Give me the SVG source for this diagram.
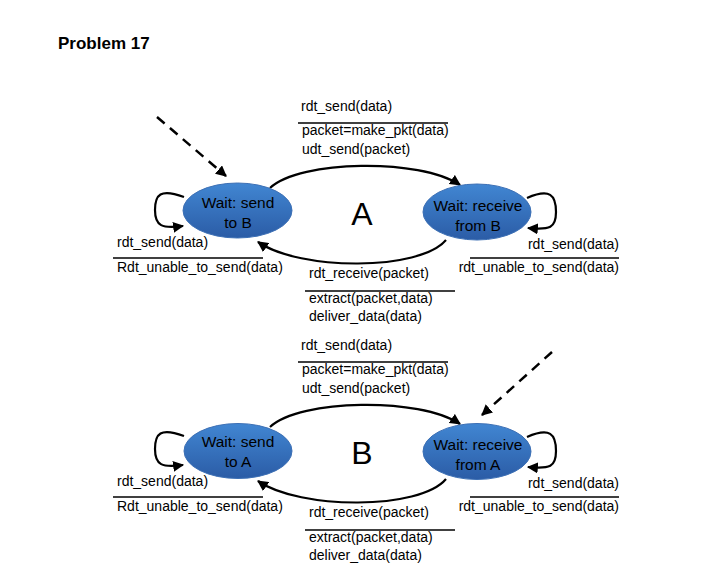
<svg xmlns="http://www.w3.org/2000/svg" width="705" height="572" viewBox="0 0 705 572">
<defs>
<linearGradient id="blue" x1="0" y1="0" x2="0" y2="1">
<stop offset="0" stop-color="#4186d2"/>
<stop offset="1" stop-color="#2b5ca6"/>
</linearGradient>
<marker id="arr" viewBox="0 0 10 10" refX="9" refY="5" markerWidth="11" markerHeight="11" markerUnits="userSpaceOnUse" orient="auto">
<path d="M0,0 L10,5 L0,10 z" fill="#000"/>
</marker>
</defs>
<style>
.st{fill:url(#blue);stroke:#3d70b5;stroke-width:1}
.sl{font-family:"Liberation Sans",Arial,sans-serif;font-size:15.5px;fill:#000;text-anchor:middle}
.lb{font-family:"Liberation Sans",Arial,sans-serif;font-size:14px;fill:#000}
.big{font-family:"Liberation Sans",Arial,sans-serif;font-size:32px;fill:#000;text-anchor:middle}
.ed{fill:none;stroke:#000;stroke-width:2.2;marker-end:url(#arr)}
.ds{fill:none;stroke:#000;stroke-width:2.5;stroke-dasharray:10,7;marker-end:url(#arr)}
.ov{stroke:#000;stroke-width:1.3}
</style>
<rect width="705" height="572" fill="#fff"/>
<text x="58" y="49" font-family="Liberation Sans,Arial,sans-serif" font-size="17" font-weight="bold">Problem 17</text>

<g id="connectors">
<path class="ds" d="M157,117 L226,176"/>
<path class="ed" d="M270,188 C300,160 420,158 460,185"/>
<path class="ed" d="M446,240 C420,271 300,271 258,242"/>
<path class="ed" d="M184,197 C160,188 155,195 155,210 C155,226 162,229 183,226"/>
<path class="ed" d="M527,198 C550,188 556,195 556,212 C556,228 550,230 528,228"/>

<path class="ds" d="M552,352 L482,415"/>
<path class="ed" d="M270,427 C300,399 420,397 460,424"/>
<path class="ed" d="M446,479 C420,510 300,510 258,481"/>
<path class="ed" d="M184,436 C160,427 155,434 155,449 C155,465 162,468 183,465"/>
<path class="ed" d="M527,437 C550,427 556,434 556,451 C556,467 550,469 528,467"/>
</g>

<g id="labelsA">
<text class="big" x="362" y="225">A</text>
<text class="lb" x="301" y="111">rdt_send(data)</text>
<line class="ov" x1="298" y1="123" x2="448" y2="123"/>
<text class="lb" x="302" y="135">packet=make_pkt(data)</text>
<text class="lb" x="302" y="154">udt_send(packet)</text>
<text class="lb" x="117" y="247">rdt_send(data)</text>
<line class="ov" x1="113" y1="258" x2="263" y2="258"/>
<text class="lb" x="117" y="272">Rdt_unable_to_send(data)</text>
<text class="lb" x="619" y="249" text-anchor="end">rdt_send(data)</text>
<line class="ov" x1="470" y1="258" x2="619" y2="258"/>
<text class="lb" x="619" y="272" text-anchor="end">rdt_unable_to_send(data)</text>
<text class="lb" x="309" y="278">rdt_receive(packet)</text>
<line class="ov" x1="305" y1="291" x2="455" y2="291"/>
<text class="lb" x="309" y="303">extract(packet,data)</text>
<text class="lb" x="309" y="321">deliver_data(data)</text>
</g>

<g id="labelsB">
<text class="big" x="362" y="464">B</text>
<text class="lb" x="301" y="350">rdt_send(data)</text>
<line class="ov" x1="298" y1="362" x2="448" y2="362"/>
<text class="lb" x="302" y="374">packet=make_pkt(data)</text>
<text class="lb" x="302" y="393">udt_send(packet)</text>
<text class="lb" x="117" y="486">rdt_send(data)</text>
<line class="ov" x1="113" y1="497" x2="263" y2="497"/>
<text class="lb" x="117" y="511">Rdt_unable_to_send(data)</text>
<text class="lb" x="619" y="488" text-anchor="end">rdt_send(data)</text>
<line class="ov" x1="470" y1="497" x2="619" y2="497"/>
<text class="lb" x="619" y="511" text-anchor="end">rdt_unable_to_send(data)</text>
<text class="lb" x="309" y="517">rdt_receive(packet)</text>
<line class="ov" x1="305" y1="530" x2="455" y2="530"/>
<text class="lb" x="309" y="542">extract(packet,data)</text>
<text class="lb" x="309" y="560">deliver_data(data)</text>
</g>

<g id="nodeA1">
<ellipse class="st" cx="237.5" cy="210.5" rx="54.5" ry="27.5"/>
<text class="sl" x="238" y="208">Wait: send</text>
<text class="sl" x="238" y="228">to B</text>
</g>
<g id="nodeA2">
<ellipse class="st" cx="477" cy="212" rx="54" ry="28"/>
<text class="sl" x="478" y="211">Wait: receive</text>
<text class="sl" x="478" y="231">from B</text>
</g>
<g id="nodeB1">
<ellipse class="st" cx="238" cy="451" rx="54" ry="27.5"/>
<text class="sl" x="238" y="447">Wait: send</text>
<text class="sl" x="238" y="467">to A</text>
</g>
<g id="nodeB2">
<ellipse class="st" cx="477" cy="451.5" rx="54" ry="28"/>
<text class="sl" x="478" y="450">Wait: receive</text>
<text class="sl" x="478" y="470">from A</text>
</g>
</svg>
